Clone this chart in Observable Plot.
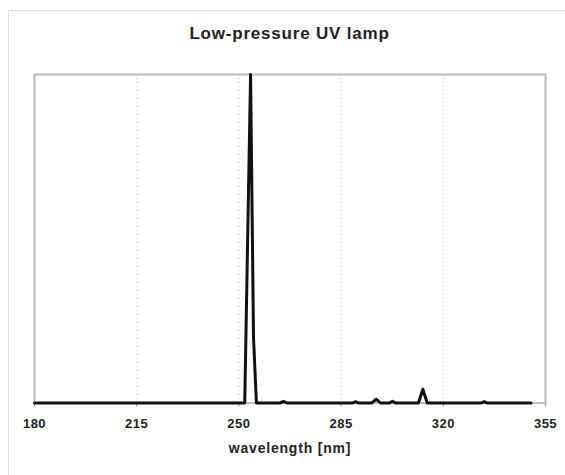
<!DOCTYPE html>
<html>
<head>
<meta charset="utf-8">
<script src="https://cdn.jsdelivr.net/npm/d3@7"></script>
<script src="https://cdn.jsdelivr.net/npm/@observablehq/plot@0.6"></script>
<style>
  html, body { margin: 0; padding: 0; background: #fff; }
  body { width: 565px; height: 475px; position: relative; overflow: hidden; font-family: "Liberation Sans", Arial, sans-serif; }
  #border { position: absolute; left: 8px; top: 10px; width: 600px; height: 500px; border: 1px solid #ddd; box-sizing: border-box; }
  #title { position: relative; height: 50px; box-sizing: border-box; padding-top: 24px; padding-left: 14px; text-align: center; font-weight: bold; font-size: 17px; letter-spacing: 0.8px; line-height: 20px; color: #222; }
  #chart { position: relative; }
</style>
</head>
<body>
<div id="border"></div>
<div id="title">Low-pressure UV lamp</div>
<div id="chart"></div>
<script>
const wavelength = [180, 252, 254, 255, 256, 264, 265.3, 266.5, 289, 290, 291, 295.5, 297, 298.5, 301.5, 302.6, 303.7, 311.5, 313, 314.5, 333, 334, 335, 350];
const intensity  = [0,   0,   100, 20,  0,   0,   0.5,   0,     0,   0.4, 0,   0,     1.2, 0,     0,     0.5,   0,     0,     4.2, 0,     0,   0.4, 0,   0];
const xTicks = [180, 215, 250, 285, 320, 355];
const xLabel = "wavelength [nm]";

const data = wavelength.map((w, i) => ({w, v: intensity[i]}));

const plot = Plot.plot({
  width: 565,
  height: 425,
  marginLeft: 34,
  marginRight: 20,
  marginTop: 24,
  marginBottom: 72.5,
  style: {fontFamily: "'Liberation Sans', Arial, sans-serif", fontSize: "13px", fontWeight: "bold", color: "#222", background: "transparent", letterSpacing: "0.5px"},
  x: {domain: [180, 355]},
  y: {domain: [0, 100], axis: null},
  marks: [
    Plot.gridX(xTicks.slice(1, -1), {stroke: "#bbb", strokeOpacity: 1, strokeDasharray: "1,3"}),
    Plot.frame({stroke: "#bbb", strokeWidth: 2}),
    Plot.axisX(xTicks, {tickSize: 4, tickPadding: 12, stroke: "#999", label: null, fontWeight: "bold", fontSize: 13}),
    Plot.lineY(data, {x: "w", y: "v", stroke: "#111", strokeWidth: 3}),
    Plot.text([xLabel], {frameAnchor: "bottom", dy: 49.5, fontWeight: "bold", fontSize: 14, fill: "#222"})
  ]
});
document.getElementById("chart").appendChild(plot);
document.querySelectorAll("#chart svg text").forEach(t => { if (t.textContent === xLabel) t.setAttribute("letter-spacing", "0.8px"); });
</script>
</body>
</html>
